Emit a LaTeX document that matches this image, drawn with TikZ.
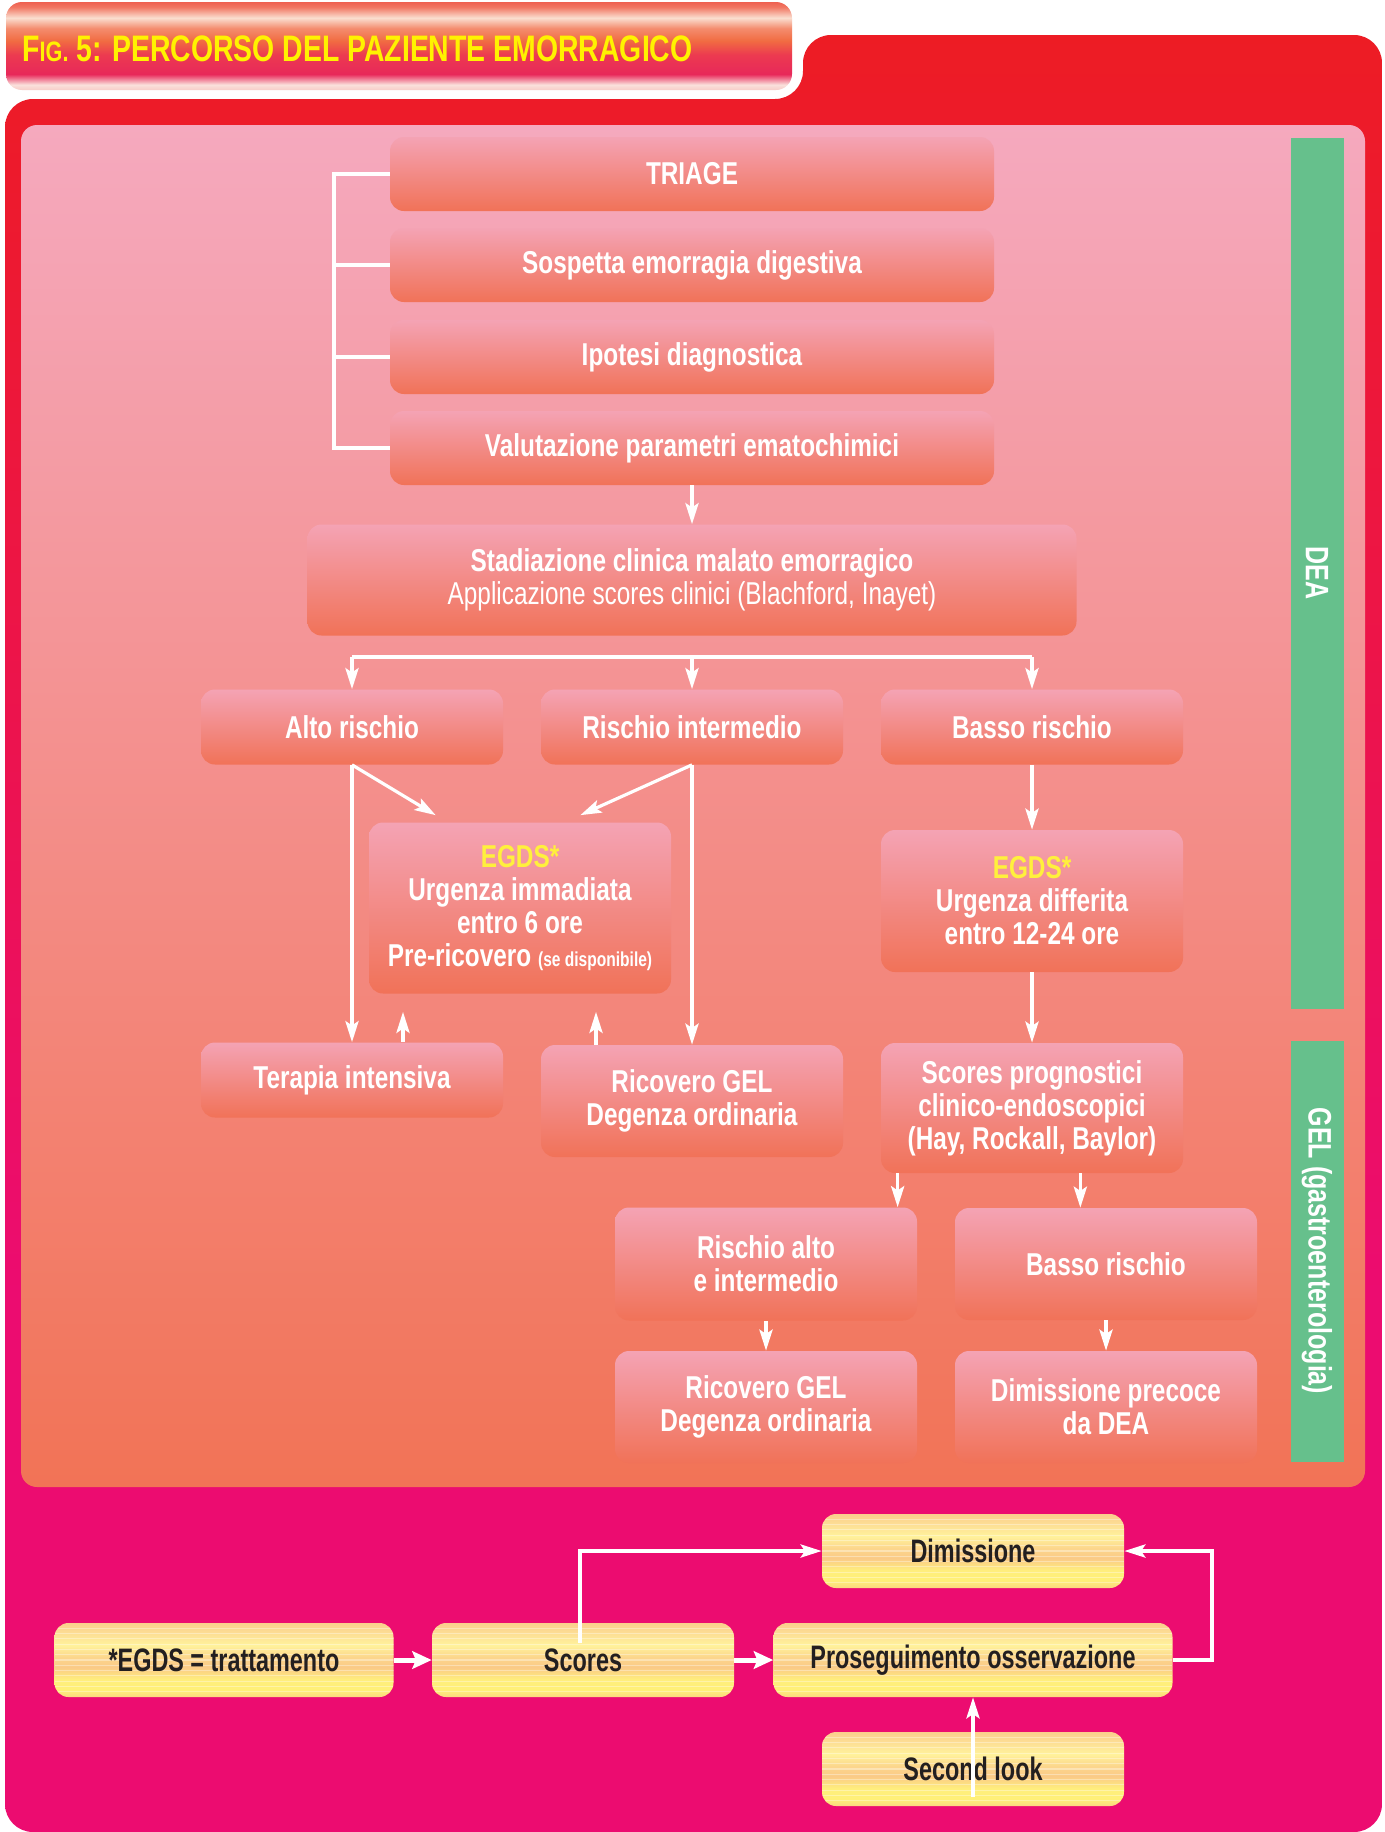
\documentclass[tikz,border=0pt]{standalone}
\usepackage{fontspec}
\setmainfont{Liberation Sans}[FakeStretch=0.77]
\newfontfamily\condfont{Liberation Sans}[FakeStretch=0.72]
\usetikzlibrary{arrows.meta}
\usetikzlibrary{calc}
\usetikzlibrary{positioning}

\newdimen\pxu
\pxu=0.02cm

\definecolor{framered}{RGB}{237,28,36}
\definecolor{framemag}{RGB}{236,12,112}
\definecolor{paneltop}{RGB}{245,169,190}
\definecolor{panelbot}{RGB}{242,115,86}
\definecolor{boxtop}{RGB}{244,163,180}
\definecolor{boxbot}{RGB}{241,114,88}
\definecolor{gelgreen}{RGB}{102,192,140}
\definecolor{egdsyellow}{RGB}{255,240,60}
\definecolor{titleyellow}{RGB}{255,242,0}
\definecolor{ytext}{RGB}{35,31,32}

\pgfdeclareverticalshading{tabshade}{100bp}{color(0bp)=(rgb,255:red,246;green,205;blue,200);
  color(25bp)=(rgb,255:red,246;green,205;blue,200); color(28bp)=(rgb,255:red,250;green,225;blue,220);
  color(34bp)=(rgb,255:red,232;green,40;blue,90); color(45bp)=(rgb,255:red,236;green,58;blue,80);
  color(53bp)=(rgb,255:red,241;green,108;blue,66); color(60bp)=(rgb,255:red,244;green,140;blue,110);
  color(66bp)=(rgb,255:red,250;green,222;blue,208); color(72bp)=(rgb,255:red,241;green,120;blue,100);
  color(75bp)=(rgb,255:red,238;green,96;blue,80); color(100bp)=(rgb,255:red,238;green,96;blue,80)}
\pgfdeclareverticalshading{frameshade}{100bp}{color(0bp)=(framemag); color(40bp)=(framemag);
  color(75bp)=(framered); color(100bp)=(framered)}
\pgfdeclareverticalshading{yshade}{100bp}{color(0bp)=(rgb,255:red,251;green,215;blue,130);
  color(25bp)=(rgb,255:red,251;green,215;blue,130); color(30bp)=(rgb,255:red,255;green,240;blue,120);
  color(37bp)=(rgb,255:red,255;green,238;blue,125); color(45bp)=(rgb,255:red,250;green,202;blue,135);
  color(52bp)=(rgb,255:red,252;green,214;blue,140); color(60bp)=(rgb,255:red,255;green,242;blue,155);
  color(67bp)=(rgb,255:red,253;green,225;blue,150); color(75bp)=(rgb,255:red,251;green,206;blue,140);
  color(100bp)=(rgb,255:red,251;green,206;blue,140)}

\tikzset{
 pbox/.style={rounded corners=14\pxu, top color=boxtop, bottom color=boxbot, text=white,
   font=\fontsize{18}{18.8}\selectfont\bfseries, align=center, inner sep=0pt,
   minimum width=302\pxu, minimum height=75\pxu},
 ystripes/.style={path picture={
   \foreach \k in {1,...,13}
     \draw[white, opacity=.35, line width=1.2\pxu]
       ($(path picture bounding box.north west)!{\k/14}!(path picture bounding box.south west)$) --
       ($(path picture bounding box.north east)!{\k/14}!(path picture bounding box.south east)$);}},
 ybox/.style={rounded corners=14\pxu, shade, shading=yshade, ystripes, text=ytext,
   font=\condfont\fontsize{18.5}{19}\selectfont\bfseries, inner sep=0pt,
   minimum width=302\pxu, minimum height=74\pxu},
 conn/.style={white, line width=3.2\pxu},
 arr/.style={conn, -{Stealth[length=12pt,width=7.5pt,inset=2.5pt]}},
 fatarr/.style={white, line width=5\pxu, -{Stealth[length=11pt,width=10pt,inset=2pt]}},
 barlabel/.style={text=white, rotate=-90, font=\fontsize{18.5}{19}\selectfont\bfseries},
}

\begin{document}
\begin{tikzpicture}[x=0.02cm, y=-0.02cm]
\useasboundingbox (0,0) rectangle (1384,1832);
\fill[white] (0,0) rectangle (1384,1832);

% frame, title tab and panel
\shade[shading=frameshade, rounded corners=28\pxu] (5,1832) -- (5,99) -- (803,99) -- (803,35)
  -- (1382,35) -- (1382,1832) -- cycle;
\shade[shading=tabshade, rounded corners=16\pxu] (6,2) rectangle (792,90);
\node[anchor=west, text=titleyellow, font=\fontsize{21}{22}\selectfont\bfseries, inner sep=0pt]
  (title) at (22,49) {F{\fontsize{16}{16}\selectfont IG.} 5: PERCORSO DEL PAZIENTE EMORRAGICO};
\shade[top color=paneltop, bottom color=panelbot, rounded corners=16\pxu] (21,125) rectangle (1365,1487);

% side bars
\fill[gelgreen] (1291,138) rectangle (1344,1009);
\fill[gelgreen] (1291,1041) rectangle (1344,1462);
\node[barlabel] (dea) at (1317,573) {DEA};
\node[barlabel] (gel) at (1317,1251) {GEL (gastroenterologia)};

% DEA part
\node[pbox, minimum width=604\pxu, minimum height=74\pxu] (triage) at (692,174) {TRIAGE};
\node[pbox, minimum width=604\pxu, minimum height=74\pxu] (sospetta) at (692,265) {Sospetta emorragia digestiva};
\node[pbox, minimum width=604\pxu, minimum height=74\pxu] (ipotesi) at (692,357) {Ipotesi diagnostica};
\node[pbox, minimum width=604\pxu, minimum height=74\pxu] (valutaz) at (692,448) {Valutazione parametri ematochimici};
\node[pbox, minimum width=769\pxu, minimum height=111\pxu] (stadiaz) at (692,580)
  {Stadiazione clinica malato emorragico\\{\mdseries Applicazione scores clinici (Blachford, Inayet)}};
\node[pbox] (alto) at (352,727) {Alto rischio};
\node[pbox] (rint) at (692,727) {Rischio intermedio};
\node[pbox] (basso) at (1032,727) {Basso rischio};
\node[pbox, minimum height=171\pxu] (egds1) at (520,908)
  {\textcolor{egdsyellow}{EGDS*}\\Urgenza immadiata\\entro 6 ore\\Pre-ricovero {\fontsize{11.5}{12}\selectfont (se disponibile)}};
\node[pbox, minimum height=142\pxu] (egds2) at (1032,901)
  {\textcolor{egdsyellow}{EGDS*}\\Urgenza differita\\entro 12-24 ore};
\node[pbox] (terapia) at (352,1080) {Terapia intensiva};
\node[pbox, minimum height=112\pxu] (ricov1) at (692,1101) {Ricovero GEL\\Degenza ordinaria};

% GEL part
\node[pbox, minimum height=130\pxu] (scoresp) at (1032,1108)
  {Scores prognostici\\clinico-endoscopici\\(Hay, Rockall, Baylor)};
\node[pbox, minimum height=113\pxu] (raltoint) at (766,1264) {Rischio alto\\e intermedio};
\node[pbox, minimum height=112\pxu] (bassob) at (1106,1264) {Basso rischio};
\node[pbox, minimum height=112\pxu] (ricov2) at (766,1407) {Ricovero GEL\\Degenza ordinaria};
\node[pbox, minimum height=112\pxu] (dimprec) at (1106,1407) {Dimissione precoce\\da DEA};

% connectors
\coordinate (brk) at (334,0);
\draw[conn] (triage.west) -- (triage.west -| brk) -- (valutaz.west -| brk) -- (valutaz.west);
\foreach \n in {sospetta,ipotesi}
  \draw[conn] (\n.west) -- (\n.west -| brk);
\draw[arr] (valutaz.south) -- (stadiaz.north);
\coordinate (fork) at (692,657);
\draw[conn] (alto.north |- fork) -- (basso.north |- fork);
\foreach \n in {alto,rint,basso}
  \draw[arr] (\n.north |- fork) -- (\n.north);
\draw[arr] (alto.south) -- ($(egds1.north west)+(67,-7)$);
\draw[arr] (rint.south) -- ($(egds1.north east)+(-91,-7)$);
\draw[arr] (alto.south) -- (terapia.north);
\draw[arr] (rint.south) -- (ricov1.north);
\draw[arr] ($(terapia.north)+(51,0)$) -- ($(terapia.north |- egds1.south)+(51,18)$);
\draw[arr] ($(ricov1.north)+(-96,0)$) -- ($(ricov1.north |- egds1.south)+(-96,18)$);
\draw[arr] (basso.south) -- (egds2.north);
\draw[arr] (egds2.south) -- (scoresp.north);
\draw[arr] ([xshift=17\pxu]scoresp.south west) -- ([xshift=17\pxu]scoresp.south west |- raltoint.north);
\draw[arr] ([xshift=-103\pxu]scoresp.south east) -- ([xshift=-103\pxu]scoresp.south east |- bassob.north);
\draw[arr] (raltoint.south) -- (ricov2.north);
\draw[arr] (bassob.south) -- (dimprec.north);

% lower part
\node[ybox] (dimiss) at (973,1551) {Dimissione};
\node[ybox, minimum width=339\pxu] (egdstr) at (224,1660) {*EGDS = trattamento};
\node[ybox] (scores) at (583,1660) {Scores};
\node[ybox, minimum width=399\pxu] (prosegu) at (973,1660) {Proseguimento osservazione};
\node[ybox] (second) at (973,1769) {Second look};

\draw[fatarr] (egdstr.east) -- (scores.west);
\draw[fatarr] (scores.east) -- (prosegu.west);
\draw[arr] ($(scores.north)+(-3,20)$) -- (scores.north -| 580,0) |- (dimiss.west);
\coordinate (loop) at (1212,0);
\draw[arr] (prosegu.east) -- (prosegu.east -| loop) |- (dimiss.east);
\draw[arr] ($(second.center)+(0,28)$) -- (prosegu.south);
\end{tikzpicture}
\end{document}
